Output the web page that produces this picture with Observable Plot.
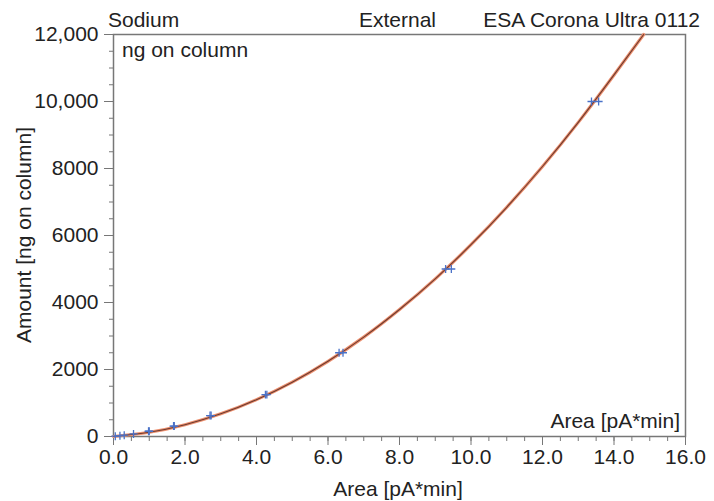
<!DOCTYPE html>
<html>
<head>
<meta charset="utf-8">
<script src="https://cdn.jsdelivr.net/npm/d3@7"></script>
<script src="https://cdn.jsdelivr.net/npm/@observablehq/plot@0.6"></script>
<style>
  html, body { margin: 0; padding: 0; background: #fff; }
  #chart svg { display: block; }
</style>
</head>
<body>
<div id="chart"></div>
<script>
// Calibration standards: measured area (pA*min) and amount (ng on column)
const pointArea   = [0.05, 0.18, 0.30, 0.56, 0.98, 1.00, 1.68, 1.70, 2.70, 2.73, 4.25, 4.29, 6.31, 6.42, 9.29, 9.45, 13.37, 13.57];
const pointAmount = [9.8, 19.5, 39, 78, 156, 156, 312.5, 312.5, 625, 625, 1250, 1250, 2500, 2500, 5000, 5000, 10000, 10000];

// Fitted calibration curve
const curveArea   = [0, 1, 2, 3, 4, 5, 6, 7, 8, 9, 10, 11, 12, 13, 14, 14.83];
const curveAmount = [0, 126, 351, 676, 1100, 1622, 2245, 2966, 3790, 4706, 5725, 6843, 8060, 9377, 10793, 12000];

const xMajor = [0, 2, 4, 6, 8, 10, 12, 14, 16];
const yMajor = [0, 2000, 4000, 6000, 8000, 10000, 12000];

const points = pointArea.map((a, i) => ({area: a, amount: pointAmount[i]}));
const curve = curveArea.map((a, i) => ({area: a, amount: curveAmount[i]}));
const xMinor = d3.range(0, 16.01, 0.5);
const yMinor = d3.range(0, 12001, 500);

const plusSymbol = {
  draw(ctx, size) {
    const r = Math.sqrt(size) / 2;
    ctx.moveTo(-r, 0); ctx.lineTo(r, 0);
    ctx.moveTo(0, -r); ctx.lineTo(0, r);
  }
};

const yFmt = d => d >= 10000 ? d3.format(",")(d) : String(d);
const FS = 21;

const chart = Plot.plot({
  width: 714,
  height: 501,
  marginLeft: 113,
  marginRight: 29,
  marginTop: 34,
  marginBottom: 65,
  style: {fontFamily: "'Liberation Sans', Arial, sans-serif", fontSize: FS + "px", color: "#222", background: "#fff"},
  x: {domain: [0, 16]},
  y: {domain: [0, 12000]},
  marks: [
    Plot.axisX(xMinor, {tickSize: 5, tickFormat: () => "", stroke: "#777", label: null}),
    Plot.axisX(xMajor, {tickSize: 9, tickPadding: 4, tickFormat: d => d.toFixed(1), stroke: "#777", fill: "#222", fontSize: FS, label: null}),
    Plot.axisY(yMinor, {tickSize: 4, tickFormat: () => "", stroke: "#777", label: null}),
    Plot.axisY(yMajor, {tickSize: 9, tickPadding: 6, tickFormat: yFmt, stroke: "#777", fill: "#222", fontSize: FS, label: null}),
    Plot.frame({stroke: "#777", strokeWidth: 1.5}),
    Plot.line(curve, {x: "area", y: "amount", curve: "natural", stroke: "#ec9070", strokeWidth: 3.2}),
    Plot.line(curve, {x: "area", y: "amount", curve: "natural", stroke: "#6e3b2e", strokeWidth: 1.1}),
    Plot.dot(points, {x: "area", y: "amount", symbol: plusSymbol, r: 4.5, fill: "none", stroke: "#4a72c8", strokeWidth: 1.3})
  ]
});

document.getElementById("chart").appendChild(chart);

const svg = d3.select(chart);
const labels = svg.append("g")
  .attr("font-family", "'Liberation Sans', Arial, sans-serif")
  .attr("font-size", FS)
  .attr("text-anchor", "start")
  .attr("fill", "#222");

labels.append("text").attr("x", 108).attr("y", 27).attr("text-anchor", "start").text("Sodium");
labels.append("text").attr("x", 359).attr("y", 27).attr("text-anchor", "start").text("External");
labels.append("text").attr("x", 700).attr("y", 27).attr("text-anchor", "end").text("ESA Corona Ultra 0112");
labels.append("text").attr("x", 122).attr("y", 57).attr("text-anchor", "start").text("ng on column");
labels.append("text").attr("x", 680).attr("y", 428).attr("text-anchor", "end").text("Area [pA*min]");
labels.append("text").attr("x", 398).attr("y", 496).attr("text-anchor", "middle").text("Area [pA*min]");
labels.append("text")
  .attr("transform", "translate(31,235) rotate(-90)")
  .attr("text-anchor", "middle")
  .text("Amount [ng on column]");
</script>
</body>
</html>
